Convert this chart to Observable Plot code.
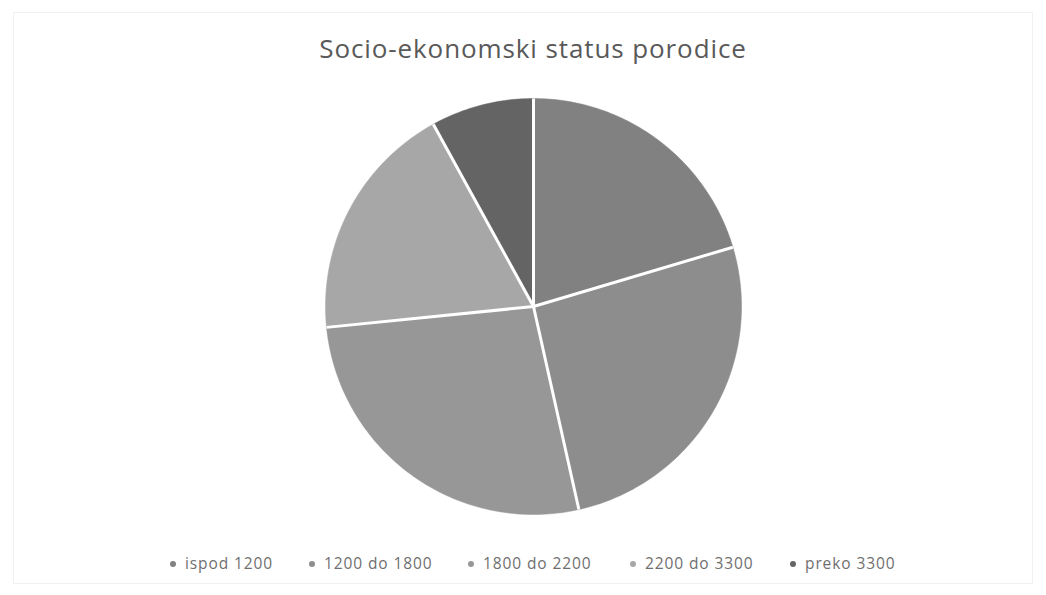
<!DOCTYPE html>
<html>
<head>
<meta charset="utf-8">
<script src="https://cdn.jsdelivr.net/npm/d3@7"></script>
<script src="https://cdn.jsdelivr.net/npm/@observablehq/plot@0.6"></script>
<style>
  html, body { margin: 0; padding: 0; background: #fff; }
  #wrap { position: relative; width: 1046px; height: 595px; overflow: hidden; background: #fff; font-family: "Open Sans", sans-serif; }
  #frame { position: absolute; left: 13px; top: 12px; width: 1020px; height: 572px; border: 1px solid #f1f1f1; box-sizing: border-box; }
  #title { position: absolute; left: 10px; width: 1046px; top: 30px; text-align: center; font-size: 26px; color: #595959; letter-spacing: 0.9px; }
  #chart { position: absolute; left: 0; top: 0; }
  .lg { position: absolute; top: 553px; font-size: 15.5px; letter-spacing: 0.9px; color: #6f6f6f; white-space: nowrap; line-height: 20px; }
  .lg span.m { display: inline-block; width: 6px; height: 6px; border-radius: 50%; margin-right: 9px; vertical-align: middle; position: relative; top: -1px; }
</style>
</head>
<body>
<div id="wrap">
  <div id="frame"></div>
  <div id="title">Socio-ekonomski status porodice</div>
  <div id="chart"></div>
</div>
<script>
// Data (share of families, %)
const categories = ["ispod 1200", "1200 do 1800", "1800 do 2200", "2200 do 3300", "preko 3300"];
const values = [20.4, 26.1, 26.9, 18.6, 8.0];
const colors = ["#818181", "#8d8d8d", "#979797", "#a7a7a7", "#646464"];
const legendX = [170, 309, 468, 630, 790];

const table = categories.map((c, i) => ({category: c, value: values[i]}));
const arcs = d3.pie().sort(null).value(d => d.value)(table);

// polygon points for each slice (unit circle, clockwise from top)
const pts = [];
arcs.forEach(a => {
  const cat = a.data.category;
  pts.push({category: cat, x: 0, y: 0});
  const n = Math.max(2, Math.ceil((a.endAngle - a.startAngle) / (Math.PI / 180)));
  for (let k = 0; k <= n; k++) {
    const t = a.startAngle + (a.endAngle - a.startAngle) * k / n;
    pts.push({category: cat, x: Math.sin(t), y: Math.cos(t)});
  }
  pts.push({category: cat, x: 0, y: 0});
});
const spokes = [];
arcs.forEach(a => {
  spokes.push({category: a.data.category, x: 0, y: 0});
  spokes.push({category: a.data.category, x: Math.sin(a.startAngle), y: Math.cos(a.startAngle)});
});

const cx = 533, cy = 306, r = 208;
const W = 1046, H = 595;
const chart = Plot.plot({
  width: W,
  height: H,
  marginLeft: cx - r,
  marginRight: W - (cx + r),
  marginTop: cy - r,
  marginBottom: H - (cy + r),
  x: {domain: [-1, 1], axis: null},
  y: {domain: [-1, 1], axis: null},
  color: {domain: categories, range: colors},
  style: {background: "transparent"},
  marks: [
    Plot.line(pts, {x: "x", y: "y", z: "category", fill: "category", stroke: "category", strokeWidth: 0.5, curve: "linear"}),
    Plot.line(spokes, {x: "x", y: "y", z: "category", stroke: "#ffffff", strokeWidth: 3, strokeLinecap: "butt"})
  ]
});
document.getElementById("chart").appendChild(chart);

const wrap = document.getElementById("wrap");
categories.forEach((c, i) => {
  const d = document.createElement("div");
  d.className = "lg";
  d.style.left = legendX[i] + "px";
  d.innerHTML = `<span class="m" style="background:${colors[i]}"></span>${c}`;
  wrap.appendChild(d);
});
</script>
</body>
</html>
